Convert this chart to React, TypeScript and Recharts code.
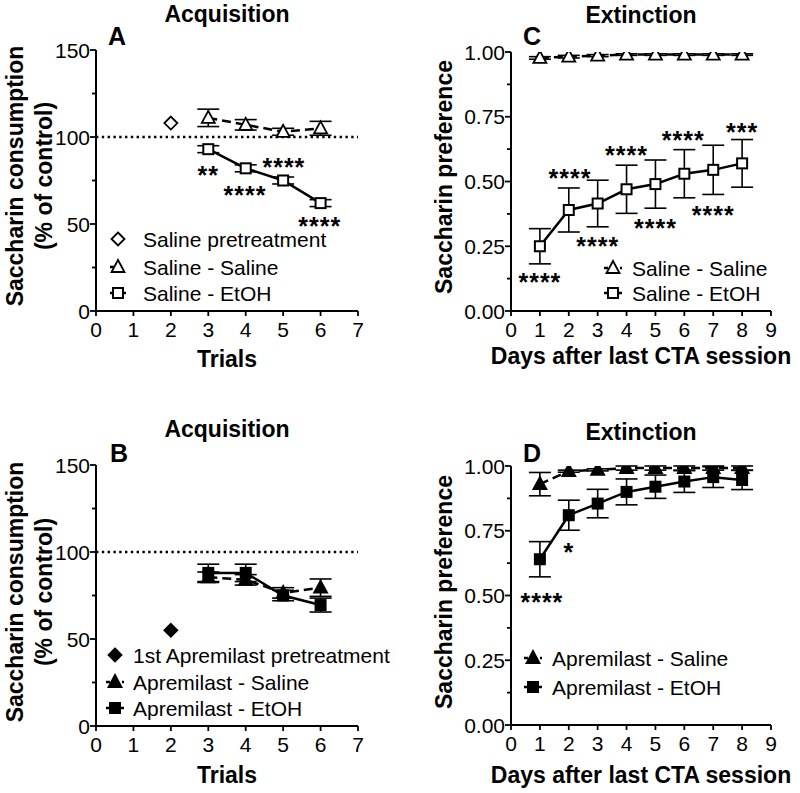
import React from "react"
import { ComposedChart, Line, Scatter, XAxis, YAxis, ErrorBar, ReferenceLine } from "recharts"

const FONT = '"Liberation Sans", Arial, Helvetica, sans-serif'

// acquisition trials
const trials = [3, 4, 5, 6]
const pretreatTrial = [2]
const acqXTicks = [0, 1, 2, 3, 4, 5, 6, 7]
const acqYMajor = [0, 50, 100, 150]
const acqYMinor = [25, 75, 125]

// A: saline pretreatment
const salinePre = [108]
const salineSaline = [111, 107, 103, 105]
const salineSalineSem = [5, 3, 2, 4]
const salineEtoh = [93, 82, 75, 62]
const salineEtohSem = [2, 2, 2, 2]
const sigAx = [3.0, 3.98, 5.02, 5.98]
const sigAy = [81, 69.5, 85.6, 51.5]
const sigAText = ["**", "****", "****", "****"]

// B: apremilast pretreatment
const apremPre = [55]
const apremSaline = [85.5, 84, 76.5, 79.5]
const apremSalineSem = [3, 3, 3, 5]
const apremEtoh = [88, 88, 75, 69.5]
const apremEtohSem = [5, 5, 3, 4]

// extinction days
const days = [1, 2, 3, 4, 5, 6, 7, 8]
const extXTicks = [0, 1, 2, 3, 4, 5, 6, 7, 8, 9]
const extYMajor = [0, 0.25, 0.5, 0.75, 1]
const extYMinor = [0.125, 0.375, 0.625, 0.875]

// C
const extSalineSaline = [0.977, 0.982, 0.986, 0.99, 0.99, 0.99, 0.99, 0.99]
const extSalineSalineSem = [0.005, 0.005, 0.004, 0.003, 0.003, 0.003, 0.003, 0.003]
const extSalineEtoh = [0.25, 0.39, 0.415, 0.47, 0.49, 0.53, 0.545, 0.57]
const extSalineEtohSem = [0.068, 0.085, 0.09, 0.093, 0.093, 0.093, 0.095, 0.092]
const sigCx = [1, 2.04, 3, 4, 5, 5.96, 7, 8]
const sigCy = [0.13, 0.533, 0.27, 0.62, 0.34, 0.68, 0.39, 0.71]
const sigCText = ["****", "****", "****", "****", "****", "****", "****", "***"]

// D
const extApremSaline = [0.93, 0.98, 0.985, 0.992, 0.992, 0.992, 0.992, 0.992]
const extApremSalineSem = [0.045, 0.004, 0.004, 0.008, 0.008, 0.008, 0.008, 0.008]
const extApremEtoh = [0.64, 0.81, 0.855, 0.9, 0.92, 0.94, 0.957, 0.946]
const extApremEtohSem = [0.068, 0.058, 0.055, 0.05, 0.045, 0.042, 0.04, 0.037]
const sigDx = [1.07, 2]
const sigDy = [0.494, 0.687]
const sigDText = ["****", "*"]

const pts = (xs: number[], ys: number[], es?: number[]) =>
  xs.map((x, i) => ({ x, y: ys[i], err: es ? es[i] : 0 }))
const sigPts = (xs: number[], ys: number[], t: string[]) =>
  xs.map((x, i) => ({ x, y: ys[i], label: t[i] }))

type Kind = "square" | "triangle" | "diamond"

function Marker({ cx, cy, kind, filled }: { cx?: number; cy?: number; kind: Kind; filled: boolean }) {
  if (cx == null || cy == null || isNaN(cx) || isNaN(cy)) return <g />
  const fill = filled ? "#000" : "#fff"
  if (kind === "square") {
    return <rect x={cx - 5} y={cy - 5} width={10} height={10} fill={fill} stroke="#000" strokeWidth={2} />
  }
  if (kind === "triangle") {
    return (
      <polygon
        points={`${cx},${cy - 7} ${cx - 6.5},${cy + 5} ${cx + 6.5},${cy + 5}`}
        fill={fill}
        stroke="#000"
        strokeWidth={1.8}
        strokeLinejoin="miter"
      />
    )
  }
  return (
    <polygon
      points={`${cx},${cy - 6.5} ${cx + 6.5},${cy} ${cx},${cy + 6.5} ${cx - 6.5},${cy}`}
      fill={fill}
      stroke="#000"
      strokeWidth={1.8}
    />
  )
}

const makeYTick = (major: number[], fmt: (v: number) => string) => (props: any) => {
  const { x, y, payload } = props
  const isMajor = major.some((m) => Math.abs(m - payload.value) < 1e-9)
  return (
    <g>
      <line x1={x - (isMajor ? 6 : 4)} x2={x} y1={y} y2={y} stroke="#000" strokeWidth={1.8} />
      {isMajor && (
        <text x={x - 6} y={y + 7.5} textAnchor="end" fontFamily={FONT} fontSize={21} fill="#000">
          {fmt(payload.value)}
        </text>
      )}
    </g>
  )
}

const xTick = (props: any) => {
  const { x, y, payload } = props
  return (
    <g>
      <line x1={x} x2={x} y1={y} y2={y + 5} stroke="#000" strokeWidth={1.8} />
      <text x={x} y={y + 26} textAnchor="middle" fontFamily={FONT} fontSize={21} fill="#000">
        {payload.value}
      </text>
    </g>
  )
}

const sigShape = (props: any) => {
  const { cx, cy, payload } = props
  return (
    <text x={cx} y={cy + 14} textAnchor="middle" fontFamily={FONT} fontSize={25} fontWeight="bold" letterSpacing={1} fill="#000">
      {payload.label}
    </text>
  )
}

type Series = {
  name: string
  data: { x: number; y: number; err: number }[]
  kind: Kind
  filled: boolean
  dashed?: boolean
  noLine?: boolean
}

type LegendRow = { name: string; kind: Kind; filled: boolean; dashed?: boolean; noLine?: boolean }

type PanelProps = {
  left: number
  top: number
  margin: { top: number; right: number; bottom: number; left: number }
  xDomain: [number, number]
  xTicks: number[]
  yDomain: [number, number]
  yMajor: number[]
  yMinor: number[]
  yFmt: (v: number) => string
  series: Series[]
  sig?: { x: number; y: number; label: string }[]
  refY?: number
  title: string
  titleX: number
  titleY: number
  letter: string
  letterX: number
  letterY: number
  xLabel: string
  xLabelY: number
  yLabel: { text: string; x: number }[]
  yLabelY: number
  legend: LegendRow[]
  legendRows: number[]
  legendIconX: number
  legendIconHalf: number
  legendTextX: number
}

function Panel(p: PanelProps) {
  const yTicks = [...p.yMajor, ...p.yMinor].sort((a, b) => a - b)
  return (
    <div style={{ position: "absolute", left: p.left, top: p.top, width: 400, height: 400 }}>
      <ComposedChart width={400} height={400} margin={p.margin}>
        <XAxis
          type="number"
          dataKey="x"
          domain={p.xDomain}
          ticks={p.xTicks}
          allowDataOverflow
          interval={0}
          height={30}
          tickSize={0}
          tickMargin={0}
          tickLine={false}
          axisLine={{ stroke: "#000", strokeWidth: 2 }}
          tick={xTick}
        />
        <YAxis
          type="number"
          domain={p.yDomain}
          ticks={yTicks}
          allowDataOverflow
          interval={0}
          width={50}
          tickSize={0}
          tickMargin={0}
          tickLine={false}
          axisLine={{ stroke: "#000", strokeWidth: 2 }}
          tick={makeYTick(p.yMajor, p.yFmt)}
        />
        {p.refY != null && (
          <ReferenceLine y={p.refY} stroke="#000" strokeWidth={2.5} strokeDasharray="2.4 3.4" />
        )}
        {p.series.map((s) =>
          s.noLine ? (
            <Scatter
              key={s.name}
              name={s.name}
              data={s.data}
              dataKey="y"
              isAnimationActive={false}
              shape={(q: any) => <Marker cx={q.cx} cy={q.cy} kind={s.kind} filled={s.filled} />}
            />
          ) : (
            <Line
              key={s.name}
              name={s.name}
              data={s.data}
              dataKey="y"
              type="linear"
              stroke="#000"
              strokeWidth={2.5}
              strokeDasharray={s.dashed ? "9 5" : undefined}
              isAnimationActive={false}
              activeDot={false}
              dot={(q: any) => <Marker key={`${s.name}-${q.index}`} cx={q.cx} cy={q.cy} kind={s.kind} filled={s.filled} />}
            >
              <ErrorBar dataKey="err" direction="y" width={11} stroke="#000" strokeWidth={1.6} />
            </Line>
          )
        )}
        {p.sig && <Scatter data={p.sig} dataKey="y" isAnimationActive={false} shape={sigShape} />}
      </ComposedChart>
      <svg
        width={400}
        height={400}
        style={{ position: "absolute", left: 0, top: 0, pointerEvents: "none" }}
        fontFamily={FONT}
      >
        <text x={p.titleX} y={p.titleY} textAnchor="middle" fontSize={23} fontWeight="bold">
          {p.title}
        </text>
        <text x={p.letterX} y={p.letterY} fontSize={25} fontWeight="bold">
          {p.letter}
        </text>
        <text x={p.titleX} y={p.xLabelY} textAnchor="middle" fontSize={23} fontWeight="bold">
          {p.xLabel}
        </text>
        {p.yLabel.map((l) => (
          <text
            key={l.text}
            x={l.x}
            y={p.yLabelY}
            textAnchor="middle"
            fontSize={23}
            fontWeight="bold"
            transform={`rotate(-90 ${l.x} ${p.yLabelY})`}
          >
            {l.text}
          </text>
        ))}
        {p.legend.map((r, i) => {
          const y = p.legendRows[i]
          const cx = p.legendIconX
          return (
            <g key={r.name}>
              {!r.noLine && (
                <line
                  x1={cx - p.legendIconHalf}
                  x2={cx + p.legendIconHalf}
                  y1={y}
                  y2={y}
                  stroke="#000"
                  strokeWidth={2.5}
                  strokeDasharray={r.dashed ? "4 4" : undefined}
                />
              )}
              <Marker cx={cx} cy={y} kind={r.kind} filled={r.filled} />
              <text x={p.legendTextX} y={y + 7.5} fontSize={21}>
                {r.name}
              </text>
            </g>
          )
        })}
      </svg>
    </div>
  )
}

const fmtInt = (v: number) => String(v)
const fmt2 = (v: number) => v.toFixed(2)

export default function App() {
  const seriesA: Series[] = [
    { name: "Saline pretreatment", data: pts(pretreatTrial, salinePre), kind: "diamond", filled: false, noLine: true },
    { name: "Saline - Saline", data: pts(trials, salineSaline, salineSalineSem), kind: "triangle", filled: false, dashed: true },
    { name: "Saline - EtOH", data: pts(trials, salineEtoh, salineEtohSem), kind: "square", filled: false },
  ]
  const seriesB: Series[] = [
    { name: "1st Apremilast pretreatment", data: pts(pretreatTrial, apremPre), kind: "diamond", filled: true, noLine: true },
    { name: "Apremilast - Saline", data: pts(trials, apremSaline, apremSalineSem), kind: "triangle", filled: true, dashed: true },
    { name: "Apremilast - EtOH", data: pts(trials, apremEtoh, apremEtohSem), kind: "square", filled: true },
  ]
  const seriesC: Series[] = [
    { name: "Saline - Saline", data: pts(days, extSalineSaline, extSalineSalineSem), kind: "triangle", filled: false, dashed: true },
    { name: "Saline - EtOH", data: pts(days, extSalineEtoh, extSalineEtohSem), kind: "square", filled: false },
  ]
  const seriesD: Series[] = [
    { name: "Apremilast - Saline", data: pts(days, extApremSaline, extApremSalineSem), kind: "triangle", filled: true, dashed: true },
    { name: "Apremilast - EtOH", data: pts(days, extApremEtoh, extApremEtohSem), kind: "square", filled: true },
  ]

  const accMargin = { top: 50, right: 42, bottom: 59, left: 46 }
  const extMargin = { top: 52, right: 29, bottom: 59, left: 61 }
  const accYLabel = [
    { text: "Saccharin consumption", x: 23 },
    { text: "(% of control)", x: 52 },
  ]
  const extYLabel = [{ text: "Saccharin preference", x: 52 }]

  return (
    <div style={{ position: "absolute", left: 0, top: 0, width: 800, height: 793, background: "#fff", color: "#000" }}>
      <Panel
        left={0}
        top={0}
        margin={accMargin}
        xDomain={[0, 7]}
        xTicks={acqXTicks}
        yDomain={[0, 150]}
        yMajor={acqYMajor}
        yMinor={acqYMinor}
        yFmt={fmtInt}
        series={seriesA}
        sig={sigPts(sigAx, sigAy, sigAText)}
        refY={100}
        title="Acquisition"
        titleX={227}
        titleY={22}
        letter="A"
        letterX={108}
        letterY={45}
        xLabel="Trials"
        xLabelY={367}
        yLabel={accYLabel}
        yLabelY={176}
        legend={seriesA}
        legendRows={[239, 267, 293]}
        legendIconX={118}
        legendIconHalf={8}
        legendTextX={143}
      />
      <Panel
        left={400}
        top={0}
        margin={extMargin}
        xDomain={[0, 9]}
        xTicks={extXTicks}
        yDomain={[0, 1]}
        yMajor={extYMajor}
        yMinor={extYMinor}
        yFmt={fmt2}
        series={seriesC}
        sig={sigPts(sigCx, sigCy, sigCText)}
        title="Extinction"
        titleX={241}
        titleY={23}
        letter="C"
        letterX={123}
        letterY={45}
        xLabel="Days after last CTA session"
        xLabelY={364}
        yLabel={extYLabel}
        yLabelY={177}
        legend={seriesC}
        legendRows={[268, 293]}
        legendIconX={213}
        legendIconHalf={9}
        legendTextX={232}
      />
      <Panel
        left={0}
        top={415}
        margin={accMargin}
        xDomain={[0, 7]}
        xTicks={acqXTicks}
        yDomain={[0, 150]}
        yMajor={acqYMajor}
        yMinor={acqYMinor}
        yFmt={fmtInt}
        series={seriesB}
        refY={100}
        title="Acquisition"
        titleX={227}
        titleY={22}
        letter="B"
        letterX={110}
        letterY={47}
        xLabel="Trials"
        xLabelY={368}
        yLabel={accYLabel}
        yLabelY={177}
        legend={seriesB}
        legendRows={[240, 267, 293]}
        legendIconX={115}
        legendIconHalf={9}
        legendTextX={133}
      />
      <Panel
        left={400}
        top={414}
        margin={extMargin}
        xDomain={[0, 9]}
        xTicks={extXTicks}
        yDomain={[0, 1]}
        yMajor={extYMajor}
        yMinor={extYMinor}
        yFmt={fmt2}
        series={seriesD}
        sig={sigPts(sigDx, sigDy, sigDText)}
        title="Extinction"
        titleX={241}
        titleY={26}
        letter="D"
        letterX={123}
        letterY={48}
        xLabel="Days after last CTA session"
        xLabelY={369}
        yLabel={extYLabel}
        yLabelY={178}
        legend={seriesD}
        legendRows={[244, 273]}
        legendIconX={133}
        legendIconHalf={9}
        legendTextX={152}
      />
    </div>
  )
}
